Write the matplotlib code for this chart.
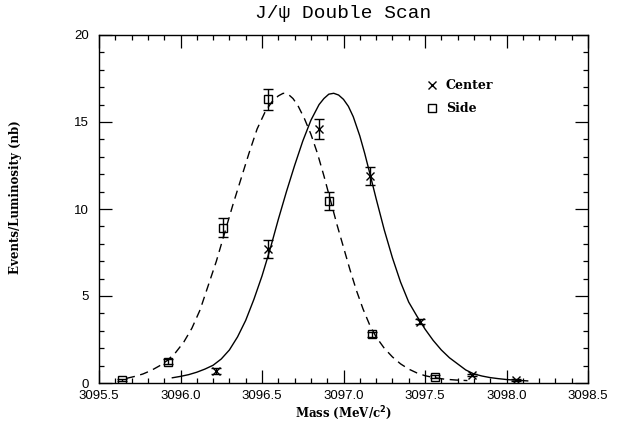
import numpy as np
import matplotlib
matplotlib.use("Agg")
import matplotlib.pyplot as plt
from matplotlib.lines import Line2D
from matplotlib.ticker import MultipleLocator, FormatStrFormatter

# measured points (mass in MeV/c^2, events/luminosity in nb)
center_mass = [3096.22, 3096.535, 3096.85, 3097.16, 3097.47, 3097.79, 3098.06]
center_val = [0.69, 7.68, 14.6, 11.9, 3.52, 0.46, 0.17]
center_err = [0.15, 0.52, 0.6, 0.52, 0.15, 0.08, 0.05]

side_mass = [3095.644, 3095.924, 3096.26, 3096.535, 3096.91, 3097.175, 3097.56]
side_val = [0.17, 1.22, 8.93, 16.3, 10.46, 2.8, 0.36]
side_err = [0.08, 0.15, 0.55, 0.6, 0.5, 0.15, 0.1]

# fit curves
center_fit_mass = [3095.95, 3096.00, 3096.05, 3096.10, 3096.15, 3096.20, 3096.25,
                   3096.30, 3096.35, 3096.40, 3096.45, 3096.50, 3096.55, 3096.60,
                   3096.65, 3096.70, 3096.75, 3096.80, 3096.85, 3096.88, 3096.91,
                   3096.94, 3096.97, 3097.00, 3097.03, 3097.06, 3097.10, 3097.13,
                   3097.16, 3097.20, 3097.25, 3097.30, 3097.35, 3097.40, 3097.45,
                   3097.50, 3097.55, 3097.60, 3097.65, 3097.70, 3097.75, 3097.80,
                   3097.85, 3097.90, 3097.95, 3098.00, 3098.06, 3098.13]
center_fit_val = [0.30, 0.38, 0.48, 0.62, 0.80, 1.02, 1.38,
                  1.9, 2.65, 3.6, 4.8, 6.15, 7.7, 9.4,
                  11.0, 12.5, 13.9, 15.1, 16.0, 16.35, 16.6,
                  16.65, 16.55, 16.3, 15.9, 15.3, 14.2, 13.2,
                  12.1, 10.6, 8.8, 7.2, 5.8, 4.65, 3.85,
                  3.1, 2.45, 1.9, 1.45, 1.1, 0.75, 0.52,
                  0.40, 0.31, 0.25, 0.2, 0.16, 0.12]

side_fit_mass = [3095.67, 3095.72, 3095.77, 3095.82, 3095.87, 3095.92, 3095.97,
                 3096.02, 3096.07, 3096.12, 3096.17, 3096.22, 3096.27, 3096.32,
                 3096.37, 3096.42, 3096.47, 3096.52, 3096.56, 3096.60, 3096.63,
                 3096.66, 3096.69, 3096.72, 3096.76, 3096.80, 3096.84, 3096.88,
                 3096.92, 3096.96, 3097.00, 3097.04, 3097.08, 3097.12, 3097.16,
                 3097.20, 3097.25, 3097.30, 3097.35, 3097.40, 3097.45, 3097.50,
                 3097.56, 3097.62, 3097.69, 3097.76]
side_fit_val = [0.27, 0.38, 0.52, 0.72, 0.98, 1.3, 1.75,
                2.35, 3.15, 4.2, 5.6, 7.0, 8.6, 10.2,
                11.7, 13.2, 14.6, 15.6, 16.15, 16.5, 16.65,
                16.6, 16.35, 15.95, 15.2, 14.3, 13.2, 11.9,
                10.5, 9.1, 7.8, 6.5, 5.3, 4.25, 3.35,
                2.65, 2.0, 1.5, 1.1, 0.8, 0.58, 0.42,
                0.3, 0.22, 0.17, 0.14]

serif = "DejaVu Serif"
sans = "Liberation Sans"

fig = plt.figure(figsize=(6.29, 4.21), dpi=100)
ax = fig.add_axes([99/629, 1-383/421, 489/629, 348/421])

ax.plot(center_fit_mass, center_fit_val, color="black", lw=1.0)
ax.plot(side_fit_mass, side_fit_val, color="black", lw=1.0, linestyle=(0, (6, 4)))

ax.errorbar(center_mass, center_val, yerr=center_err, fmt="x", color="black",
            ms=6, mew=1.0, elinewidth=1.0, capsize=3.5, capthick=1.0)
ax.errorbar(side_mass, side_val, yerr=side_err, fmt="s", color="black", mfc="none",
            ms=5.5, mew=1.0, elinewidth=1.0, capsize=3.5, capthick=1.0)

ax.set_xlim(3095.5, 3098.5)
ax.set_ylim(0, 20)
ax.xaxis.set_major_locator(MultipleLocator(0.5))
ax.xaxis.set_minor_locator(MultipleLocator(0.1))
ax.yaxis.set_major_locator(MultipleLocator(5))
ax.yaxis.set_minor_locator(MultipleLocator(1))
ax.xaxis.set_major_formatter(FormatStrFormatter("%.1f"))
ax.yaxis.set_major_formatter(FormatStrFormatter("%d"))
ax.tick_params(which="both", direction="in", top=True, right=True, width=0.9)
ax.tick_params(which="major", length=9.5)
ax.tick_params(which="minor", length=3.8)
ax.tick_params(axis="x", pad=5)
ax.tick_params(axis="y", pad=7)
for lab in ax.get_xticklabels() + ax.get_yticklabels():
    lab.set_fontfamily(sans)
    lab.set_fontsize(9.5)
for sp in ax.spines.values():
    sp.set_linewidth(1.0)

ax.set_xlabel("Mass (MeV/c$^{\\mathbf{2}}$)", family=serif, fontsize=8.5, fontweight="bold")
ax.xaxis.set_label_coords(0.5, -0.06)
ax.set_ylabel("Events/Luminosity (nb)", family=serif, fontsize=8.5, fontweight="bold")
ax.yaxis.set_label_coords(-0.157, 0.534)

ax.set_title("J/\u03c8 Double Scan", family="Liberation Mono", fontsize=14, pad=12)

handles = [Line2D([], [], marker="x", ls="none", color="black", ms=6, mew=1.0),
           Line2D([], [], marker="s", ls="none", color="black", mfc="none", ms=5.5, mew=1.0)]
ax.legend(handles, ["Center", "Side"], loc="upper left", bbox_to_anchor=(0.645, 0.905),
          frameon=False, handlelength=1.0, handletextpad=0.6, labelspacing=0.8,
          prop={"family": serif, "size": 9, "weight": "bold"})

fig.savefig("out.png", dpi=100)
